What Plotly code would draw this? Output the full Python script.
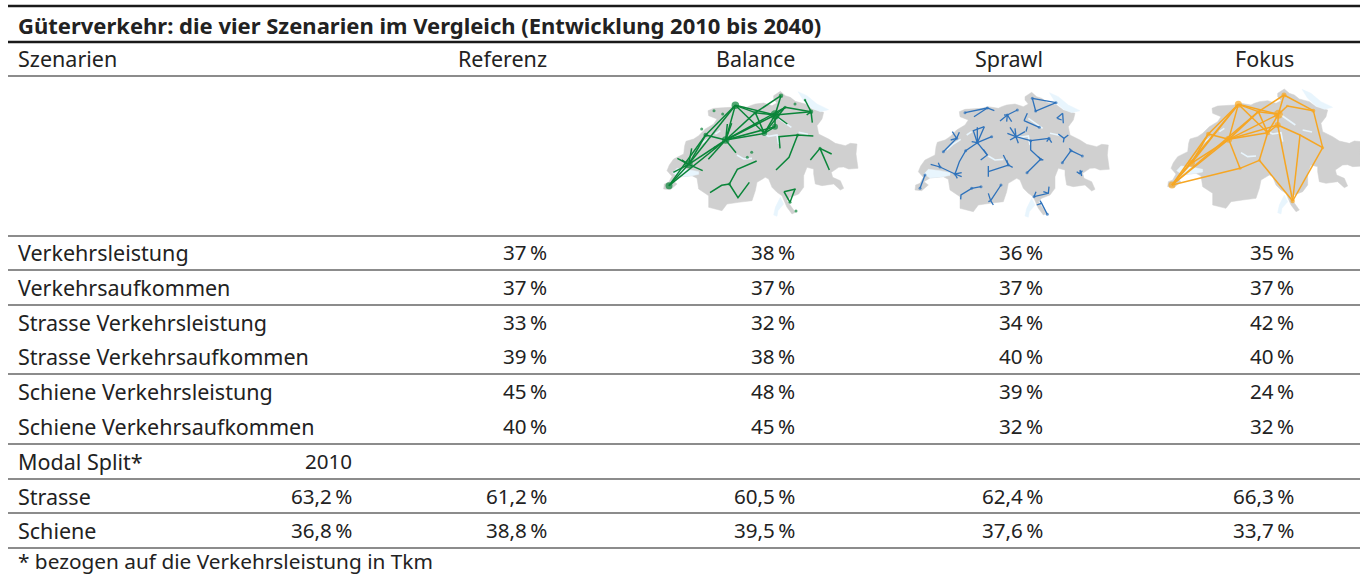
import plotly.graph_objects as go

FONT = "Noto Sans"
TITLE = "Güterverkehr: die vier Szenarien im Vergleich (Entwicklung 2010 bis 2040)"
HEADER_LABEL = "Szenarien"
FOOTNOTE = "* bezogen auf die Verkehrsleistung in Tkm"
SCENARIOS = ["Referenz", "Balance", "Sprawl", "Fokus"]
ROW_LABELS = ["Verkehrsleistung", "Verkehrsaufkommen", "Strasse Verkehrsleistung",
              "Strasse Verkehrsaufkommen", "Schiene Verkehrsleistung", "Schiene Verkehrsaufkommen"]
REFERENZ = [37, 37, 33, 39, 45, 40]
BALANCE = [38, 37, 32, 38, 48, 45]
SPRAWL = [36, 37, 34, 40, 39, 32]
FOKUS = [35, 37, 42, 40, 24, 32]
MODAL_LABELS = ["Strasse", "Schiene"]
MODAL_2010 = ["63,2", "36,8"]
MODAL_REFERENZ = ["61,2", "38,8"]
MODAL_BALANCE = ["60,5", "39,5"]
MODAL_SPRAWL = ["62,4", "37,6"]
MODAL_FOKUS = ["66,3", "33,7"]

OUTLINE = [(47,315),(60,310),(70,292),(55,275),(62,258),(75,240),(105,225),(108,200),(112,187),
 (135,180),(150,170),(170,150),(195,135),(205,120),(180,110),(178,95),(195,88),(225,85),(245,85),(265,80),
 (295,85),(305,80),(320,75),(345,72),(370,80),(385,72),(375,60),(375,50),(395,37),(410,50),(425,55),(440,67),
 (470,75),(490,90),(525,100),(520,120),(505,140),(510,165),(540,180),(560,193),(590,200),(605,193),(625,195),
 (622,225),(628,268),(600,270),(585,264),(570,265),(548,280),(552,295),(575,305),(585,328),(575,333),(555,315),
 (520,320),(500,315),(495,285),(495,270),(475,265),(465,290),(465,325),(450,345),(425,355),(415,365),
 (440,400),(430,405),(415,385),(400,350),(385,340),(370,325),(360,300),(350,295),(325,310),(320,335),(310,365),
 (270,370),(235,375),(220,395),(180,385),(180,350),(150,330),(145,298),(130,290),(90,294),(72,305),
 (85,315),(65,332),(45,330),(47,315)]
LAKES = [
 [(72,282),(85,268),(120,272),(150,278),(150,286),(130,290),(90,294)],
 [(448,38),(475,50),(505,75),(540,92),(515,98),(490,88),(465,65)],
 [(395,355),(405,375),(388,395),(385,412),(375,408),(380,385)],
]
RIVERS = [
 [(140,210),(160,192),(182,178)],[(200,165),(215,155)],[(265,228),(285,240),(310,238)],
 [(345,165),(360,172),(385,168),(390,195)],[(385,115),(405,130),(428,145)],[(450,160),(478,166)],
]

G_NODES = {"A":(57,317,7),"B":(116,253,8),"C":(167,165,4.5),"D":(227,180,7.5),"E":(256,76,7.5),"F":(316,98,3.5),
 "G":(343,160,5.5),"H":(375,105,9.5),"I":(375,140,6),"J":(393,47,4.5),"K":(483,95,4.5),"L":(405,82,3),"M":(465,60,2.5)}
G_EDGES = ["AB","AC","AD","BC","BD","BE","CE","CD","DE","DF","DG","DH","DI","DL","EF","EH","EG","FH","FG","GH",
 "GI","HI","HJ","FJ","HK","LK","HL","MK","GL"]
G_PATHS = [[(116,253),(82,235)],[(116,253),(95,240)],[(116,253),(125,205)],[(116,253),(158,272)],[(116,253),(70,277)],
 [(227,180),(245,130)],[(227,180),(232,132)],[(227,180),(175,238)],[(227,180),(258,218)],[(483,95),(487,128)],
 [(470,105),(483,95)],[(412,132),(375,105)],
 [(180,338),(215,316),(238,312),(262,268),(320,243)],[(238,312),(264,353),(298,307)],
 [(390,205),(387,170),(443,165),(490,168)],[(443,165),(417,232),(378,270)],
 [(481,240),(510,205),(545,222)],[(510,205),(538,270)],
 [(402,335),(437,327)],[(420,367),(402,335)],[(420,367),(435,327)]]
G_DOTS = [(192,92),(218,102),(155,147),(305,217),(292,232),(435,72),(438,393),(195,203),(420,367),(510,205),(238,312),(443,165)]

B_PATHS = [[(60,325),(75,285)],[(92,253),(120,261),(165,282)],[(120,261),(115,248)],[(165,282),(185,290)],
 [(165,282),(172,295)],[(165,282),(185,278)],[(165,282),(178,245),(197,212),(232,188)],[(130,215),(170,175)],
 [(170,175),(157,155)],[(170,175),(178,157)],[(170,175),(152,180)],[(232,188),(220,152),(253,140)],[(232,188),(232,142)],
 [(232,188),(253,140)],[(232,188),(275,170)],[(232,188),(215,185)],[(232,188),(262,225),(242,240)],[(262,225),(250,208)],
 [(195,98),(262,84),(283,92)],[(262,84),(222,110)],[(300,123),(322,105),(352,90)],[(322,105),(320,125)],[(322,105),(335,125)],
 [(322,105),(312,105)],[(372,122),(382,100)],[(372,122),(418,142)],[(348,170),(322,160)],[(348,170),(330,142)],
 [(348,170),(345,145)],[(348,170),(375,155)],[(348,170),(392,182)],[(348,170),(355,190)],[(348,170),(330,180)],
 [(378,155),(382,140)],[(392,182),(447,175)],[(447,175),(440,185)],[(447,175),(455,188)],[(392,182),(392,210),(422,238),(381,278)],
 [(422,238),(415,230)],[(422,238),(430,240)],[(397,55),(468,68),(407,93),(397,55)],[(488,100),(470,115)],[(488,100),(490,130)],
 [(485,120),(472,115)],[(475,162),(492,175),(505,165)],[(492,175),(490,187)],[(487,248),(513,212),(547,228)],[(513,212),(508,205)],
 [(540,282),(530,275)],[(540,282),(547,272)],[(540,270),(545,288)],[(310,225),(325,255),(265,275)],[(325,255),(338,262)],
 [(325,255),(320,240)],[(265,258),(265,290)],[(182,358),(183,345),(215,325),(243,320)],[(303,315),(272,362),(265,340)],
 [(272,362),(280,375)],[(272,362),(265,365)],[(402,350),(445,340),(447,320)],[(402,350),(408,335)],[(445,340),(430,335)],
 [(410,375),(425,370),(442,403)],[(425,370),(420,362)]]
B_DOTS = [(60,325),(75,285),(120,261),(165,282),(197,212),(232,188),(130,215),(170,175),(262,84),(195,98),(322,105),(352,90),
 (348,170),(392,182),(447,175),(422,238),(381,278),(397,55),(468,68),(407,93),(513,212),(547,228),(487,248),(325,255),(303,315),(215,325),
 (243,320),(442,403),(402,350),(540,278),(275,170),(418,142)]

O_NODES = {"a":(66,315,7),"b":(124,250,7),"c":(175,162,4.5),"d":(236,178,7),"e":(265,73,7),"f":(325,95,3.5),"g":(305,112,3),
 "h":(353,158,5),"i":(385,103,9),"j":(383,135,6),"k":(402,45,5),"l":(412,78,2.5),"m":(490,92,4),"n":(518,203,3),
 "o":(450,165,2),"p":(428,363,4.5),"q":(328,241,2.5),"r":(270,265,3)}
O_EDGES = ["ab","ac","ad","ar","bc","bd","be","ce","cd","de","df","dh","di","dj","dr","eg","ei","gh","gf","fi","fh","fk",
 "ef","hi","hj","ij","ik","il","km","lm","mn","jo","on","op","np","jp","qp","qh","qr","ag","ae"]

GREEN, BLUE, ORANGE = "#0a8539", "#2e72bb", "#f6a623"
GREY, LAKE = "#d0d0d0", "#e8f5fd"

RULES = [(6,2.6),(42,2.4),(76,1.2),(236,1.2),(270,1.2),(305,1.2),(374,1.2),(444,1.2),(479,1.2),(513,1.2),(548,1.2)]
COL_X = [547, 795, 1043, 1294]
ROW_Y = [252.3, 287.3, 322.3, 356.3, 391.3, 426.3]
MODAL_Y = [496.3, 530.3]
LABEL_SIZE, NUM_SIZE, TITLE_SIZE, NOTE_SIZE = 21.5, 20.6, 22, 20.8

fig = go.Figure()
fig.add_trace(go.Scatter(x=[0, 1360], y=[0, 576], mode="markers", marker=dict(opacity=0), hoverinfo="skip", showlegend=False))
ann = []
def T(x, y, s, anchor="left", size=LABEL_SIZE, bold=False):
    ann.append(dict(x=x, y=y, text=f"<b>{s}</b>" if bold else s, xanchor=anchor, yanchor="middle", showarrow=False,
                    borderpad=0, borderwidth=0,
                    font=dict(family=FONT, size=size, color="#222222"), xref="x", yref="y"))
T(18, 24.8, TITLE, size=TITLE_SIZE, bold=True)
T(18, 58.3, HEADER_LABEL)
for x, s in zip(COL_X, SCENARIOS):
    T(x, 58.3, s, "right")
for y, lab, *vals in zip(ROW_Y, ROW_LABELS, REFERENZ, BALANCE, SPRAWL, FOKUS):
    T(18, y, lab)
    for x, v in zip(COL_X, vals):
        T(x, y, f"{v}\u2009%", "right", NUM_SIZE)
T(18, 461.3, "Modal Split*")
T(352, 461.3, "2010", "right", NUM_SIZE)
for y, lab, m0, *vals in zip(MODAL_Y, MODAL_LABELS, MODAL_2010, MODAL_REFERENZ, MODAL_BALANCE, MODAL_SPRAWL, MODAL_FOKUS):
    T(18, y, lab)
    T(352, y, f"{m0}\u2009%", "right", NUM_SIZE)
    for x, v in zip(COL_X, vals):
        T(x, y, f"{v}\u2009%", "right", NUM_SIZE)
T(18, 561, FOOTNOTE, size=NOTE_SIZE)

shapes = [dict(type="line", xref="x", yref="y", x0=8, x1=1360, y0=y, y1=y, line=dict(color="#1a1a1a", width=w)) for y, w in RULES]

def closed_xy(pts, dx, dy):
    return [p[0] + dx for p in pts] + [None], [p[1] + dy for p in pts] + [None]

def add_map(idx, origin_x, width, dx, dy, color, nodes, edges, paths, dots, lw=1.6):
    ax = f"x{idx}"; ay = f"y{idx}"
    fig.add_trace(go.Scatter(x=[p[0]+dx for p in OUTLINE], y=[p[1]+dy for p in OUTLINE], xaxis=ax, yaxis=ay, mode="lines",
                             fill="toself", fillcolor=GREY, line=dict(color=GREY, width=0.5), hoverinfo="skip", showlegend=False))
    lx, ly = [], []
    for lake in LAKES:
        a, b = closed_xy(lake + lake[:1], dx, dy); lx += a; ly += b
    fig.add_trace(go.Scatter(x=lx, y=ly, xaxis=ax, yaxis=ay, mode="lines", fill="toself", fillcolor=LAKE,
                             line=dict(color=LAKE, width=0.5), hoverinfo="skip", showlegend=False))
    rx, ry = [], []
    for r in RIVERS:
        a, b = closed_xy(r, dx, dy); rx += a; ry += b
    fig.add_trace(go.Scatter(x=rx, y=ry, xaxis=ax, yaxis=ay, mode="lines", line=dict(color=LAKE, width=1.6), hoverinfo="skip", showlegend=False))
    ex, ey = [], []
    for e in edges:
        a, b = nodes[e[0]], nodes[e[1]]
        ex += [a[0], b[0], None]; ey += [a[1], b[1], None]
    for p in paths:
        ex += [q[0] for q in p] + [None]; ey += [q[1] for q in p] + [None]
    fig.add_trace(go.Scatter(x=ex, y=ey, xaxis=ax, yaxis=ay, mode="lines", line=dict(color=color, width=lw), hoverinfo="skip", showlegend=False))
    mx = [n[0] for n in nodes.values()] + [d[0] for d in dots]
    my = [n[1] for n in nodes.values()] + [d[1] for d in dots]
    ms = [n[2] for n in nodes.values()] + [3] * len(dots)
    fig.add_trace(go.Scatter(x=mx, y=my, xaxis=ax, yaxis=ay, mode="markers", marker=dict(color=color, size=ms, line=dict(width=0)), hoverinfo="skip", showlegend=False))
    hid = dict(visible=False, fixedrange=True)
    fig.update_layout({
        f"xaxis{idx}": dict(domain=[origin_x/1360, (origin_x+width)/1360], range=[0, width*3], anchor=ay, **hid),
        f"yaxis{idx}": dict(domain=[1-230/576, 1-80/576], range=[450, 0], anchor=ax, **hid),
    })

add_map(2, 650, 230, -4, -3, GREEN, G_NODES, G_EDGES, G_PATHS, G_DOTS, lw=1.5)
add_map(3, 900, 230, 0, 0, BLUE, {}, [], B_PATHS, B_DOTS, lw=1.3)
add_map(4, 1150, 210, 8, -10, ORANGE, O_NODES, O_EDGES, [], [], lw=1.5)

fig.update_layout(width=1360, height=576, margin=dict(l=0, r=0, t=0, b=0), plot_bgcolor="white", paper_bgcolor="white",
                  showlegend=False, annotations=ann, shapes=shapes,
                  xaxis=dict(range=[0, 1360], visible=False, fixedrange=True, domain=[0, 1]),
                  yaxis=dict(range=[576, 0], visible=False, fixedrange=True, domain=[0, 1]))
fig.write_html("out.html", config=dict(displayModeBar=False),
               post_script="document.body.style.margin='0';document.body.style.overflow='hidden';")
